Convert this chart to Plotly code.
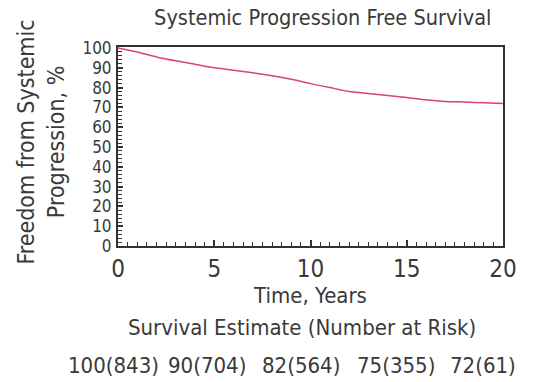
import plotly.graph_objects as go

# Kaplan-Meier style estimate of freedom from systemic progression
years = [0, 0.5, 1, 2, 3, 4, 5, 6, 7, 8, 9, 10, 11, 12, 13, 14, 15, 16, 17, 18, 19, 20]
pfs = [100, 99, 98, 95.5, 93.5, 91.8, 90, 88.8, 87.5, 86, 84.2, 82, 80, 78, 77, 76, 75,
       73.8, 73, 72.7, 72.3, 72]

# Number-at-risk table under the axis
risk_times = [0, 5, 10, 15, 20]
risk_estimate = [100, 90, 82, 75, 72]
risk_count = [843, 704, 564, 355, 61]

y_ticks = list(range(0, 101, 10))
x_ticks = [0, 5, 10, 15, 20]

FONT = "DejaVu Sans Condensed, Liberation Sans Narrow, Arial Narrow, sans-serif"
TXT = "#3a3a3a"
AXIS = "#333333"

fig = go.Figure()
fig.add_trace(go.Scatter(
    x=years, y=pfs, mode="lines",
    line=dict(color="#d8437a", width=1.5, shape="spline", smoothing=0.6),
    hoverinfo="skip", showlegend=False,
))

fig.update_layout(
    width=537, height=382,
    margin=dict(l=118, r=34, t=47, b=136),
    paper_bgcolor="white", plot_bgcolor="white",
    font=dict(family=FONT, color=TXT, size=22),
    title=dict(text="Systemic Progression Free Survival", x=0.601, xanchor="center",
               y=0.953, yanchor="middle", font=dict(size=21.5, color=TXT, family=FONT)),
    showlegend=False,
)

fig.update_xaxes(
    range=[0, 20], tickmode="array", tickvals=x_ticks,
    ticks="inside", ticklen=6, tickwidth=1.5, tickcolor=AXIS,
    minor=dict(dtick=0.5, ticks="inside", ticklen=4, tickwidth=1.2, tickcolor=AXIS),
    showline=True, linecolor=AXIS, linewidth=2, mirror=True,
    showgrid=False, zeroline=False,
    tickfont=dict(size=24, color=TXT, family=FONT),
    title=dict(text="Time, Years", font=dict(size=22, color=TXT, family=FONT), standoff=4),
)
fig.update_yaxes(
    range=[0, 100.5], tickmode="array", tickvals=y_ticks,
    ticks="inside", ticklen=5, tickwidth=1.5, tickcolor=AXIS,
    minor=dict(dtick=2, ticks="inside", ticklen=4, tickwidth=1.2, tickcolor=AXIS),
    showline=True, linecolor=AXIS, linewidth=2, mirror=True,
    showgrid=False, zeroline=False,
    tickfont=dict(size=17, color=TXT, family=FONT),
    ticklabelstandoff=1,
)

# Two-line y-axis title, placed left of the tick labels
fig.add_annotation(
    text="Freedom from Systemic<br>Progression, %", textangle=-90,
    xref="paper", yref="paper", x=0, y=0.52, xanchor="center", yanchor="middle",
    xshift=-77, showarrow=False,
    font=dict(size=23, color=TXT, family=FONT),
)

fig.add_annotation(
    text="Survival Estimate (Number at Risk)", xref="paper", yref="paper",
    x=0.478, y=-0.41, xanchor="center", yanchor="middle", showarrow=False,
    font=dict(size=22, color=TXT, family=FONT),
)

# Offsets keep the at-risk labels inside the canvas at the right edge
shifts = [-5, -7, -10, -11, -20]
for t, est, n, dx in zip(risk_times, risk_estimate, risk_count, shifts):
    fig.add_annotation(
        text=f"{est}({n})", xref="x", yref="paper", x=t, y=-0.6,
        xanchor="center", yanchor="middle", xshift=dx, showarrow=False,
        font=dict(size=22, color=TXT, family=FONT),
    )

fig.write_html("out.html")
